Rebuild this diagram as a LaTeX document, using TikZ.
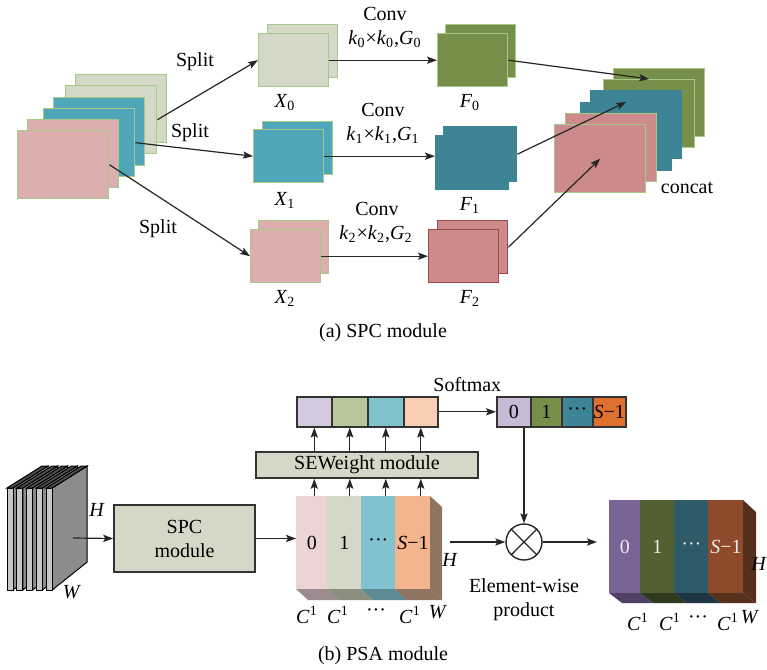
\documentclass[tikz,border=0pt]{standalone}
\usepackage{fontspec}
\setmainfont{Liberation Serif}
\usetikzlibrary{arrows.meta}

\definecolor{gglt}{HTML}{D3D9C6}
\definecolor{tealin}{HTML}{4FA6B8}
\definecolor{pinkin}{HTML}{DCAEAE}
\definecolor{edgegr}{HTML}{A6C98A}
\definecolor{greenf}{HTML}{76904A}
\definecolor{tealf}{HTML}{3D8496}
\definecolor{pinkf}{HTML}{CC8A8A}
\definecolor{redline}{HTML}{A04848}
\definecolor{slfront}{HTML}{C8C8C8}
\definecolor{slside}{HTML}{8C8C8C}
\definecolor{wlav}{HTML}{D4CADF}
\definecolor{wgrn}{HTML}{B6C89B}
\definecolor{wteal}{HTML}{80C1CD}
\definecolor{wpeach}{HTML}{F8CDB2}
\definecolor{smlav}{HTML}{C8BAD7}
\definecolor{smorange}{HTML}{E0702E}
\definecolor{mpink}{HTML}{ECD3D4}
\definecolor{mteal}{HTML}{80C2CF}
\definecolor{morange}{HTML}{F3B48E}
\definecolor{mbpink}{HTML}{9C8B8F}
\definecolor{mbgg}{HTML}{8A8F80}
\definecolor{mbteal}{HTML}{5C8A95}
\definecolor{mbrown}{HTML}{8F7462}
\definecolor{opurple}{HTML}{7A6496}
\definecolor{oolive}{HTML}{536032}
\definecolor{oteal}{HTML}{2F5A68}
\definecolor{obrown}{HTML}{8E4A2A}
\definecolor{obpurple}{HTML}{514166}
\definecolor{obolive}{HTML}{2F3A1F}
\definecolor{obteal}{HTML}{1E3641}
\definecolor{obbrown}{HTML}{56301A}

\tikzset{
  fm/.style={draw=edgegr, line width=0.7pt, inner sep=0pt, anchor=north west,
    minimum width=35pt, minimum height=26.5pt},
  bigfm/.style={fm, minimum width=45.5pt, minimum height=34pt},
  arr/.style={-{Stealth[length=5pt,width=3.6pt,inset=1pt]}, line width=0.6pt, draw=black!85},
  lbl/.style={inner sep=1pt},
  modbox/.style={draw=black!80, line width=0.8pt, fill=gglt, inner sep=0pt},
  cell/.style={draw=black!80, line width=0.8pt, inner sep=0pt, anchor=north west,
    minimum height=15pt},
  seg/.style={inner sep=0pt, anchor=north west, minimum height=46.5pt},
}

\begin{document}
\begin{tikzpicture}[x=0.5pt, y=-0.5pt, font=\fontsize{10}{12}\selectfont]
\useasboundingbox (0,0) rectangle (767,670);
\fill[white] (0,0) rectangle (767,670);

% (a) input feature map
\node[bigfm, fill=gglt] (in0) at (75,74) {};
\node[bigfm, fill=gglt] (in1) at (65,85) {};
\node[bigfm, fill=tealin] (in2) at (53,97) {};
\node[bigfm, fill=tealin] (in3) at (43,108) {};
\node[bigfm, fill=pinkin] (in4) at (27,119) {};
\node[bigfm, fill=pinkin] (in5) at (17,130) {};

% split groups
\node[fm, fill=gglt] (x0b) at (267,24) {};
\node[fm, fill=gglt] (x0) at (258,33) {};
\node[fm, fill=tealin] (x1b) at (262,121) {};
\node[fm, fill=tealin] (x1) at (253,129) {};
\node[fm, fill=pinkin] (x2b) at (258,220) {};
\node[fm, fill=pinkin] (x2) at (250,229) {};
\node[lbl] (lx0) at (285,103) {\textit{X}\textsubscript{0}};
\node[lbl] (lx1) at (285,200) {\textit{X}\textsubscript{1}};
\node[lbl] (lx2) at (285,298) {\textit{X}\textsubscript{2}};

% conv outputs
\node[fm, fill=greenf] (f0b) at (445,24) {};
\node[fm, fill=greenf] (f0) at (437,33) {};
\node[fm, fill=tealf, draw=tealf, minimum width=36.5pt, minimum height=27.5pt] (f1b) at (443,126) {};
\node[fm, fill=tealf, draw=tealf, minimum width=36.5pt, minimum height=27pt] (f1) at (435,135) {};
\node[fm, fill=pinkf, draw=redline] (f2b) at (437,220) {};
\node[fm, fill=pinkf, draw=redline] (f2) at (428,229) {};
\node[lbl] (lf0) at (470,103) {\textit{F}\textsubscript{0}};
\node[lbl] (lf1) at (470,205) {\textit{F}\textsubscript{1}};
\node[lbl] (lf2) at (470,298) {\textit{F}\textsubscript{2}};

% concat
\node[bigfm, fill=greenf] (c0) at (613,68) {};
\node[bigfm, fill=greenf] (c1) at (603,79) {};
\node[bigfm, fill=tealf, draw=tealf] (c2) at (590,90) {};
\node[bigfm, fill=tealf, draw=tealf] (c3) at (580,102) {};
\node[bigfm, fill=pinkf] (c4) at (565,113) {};
\node[bigfm, fill=pinkf] (c5) at (554,124) {};
\node[lbl] (lcat) at (687,188) {concat};

\draw[arr] (in1.east) -- (x0.west);
\draw[arr] (in3.east) -- (x1.west);
\draw[arr] (in5.east) -- (x2.west);
\node[lbl] (sp0) at (195,62) {Split};
\node[lbl] (sp1) at (190,133) {Split};
\node[lbl] (sp2) at (158,229) {Split};

\draw[arr] (x0.east) -- (x0.east -| f0.west);
\draw[arr] (x1.east) -- (x1.east -| f1.west);
\draw[arr] (x2.east) -- (x2.east -| f2.west);
\node[lbl] (cv0) at (385,14) {Conv};
\node[lbl] (k0) at (385,39) {\textit{k}\textsubscript{0}×\textit{k}\textsubscript{0},\textit{G}\textsubscript{0}};
\node[lbl] (cv1) at (383,110) {Conv};
\node[lbl] (k1) at (383,135) {\textit{k}\textsubscript{1}×\textit{k}\textsubscript{1},\textit{G}\textsubscript{1}};
\node[lbl] (cv2) at (377,209) {Conv};
\node[lbl] (k2) at (376,234) {\textit{k}\textsubscript{2}×\textit{k}\textsubscript{2},\textit{G}\textsubscript{2}};

\draw[arr] (f0.east) -- (c1.north);
\draw[arr] (f1b.east) -- (c3.north);
\draw[arr] (f2b.east) -- (c5.center);

\node[lbl] (capa) at (383,333) {(a) SPC module};

% (b) input slices
\foreach \i in {0,...,4} {
  \pgfmathsetmacro{\sx}{7+9.8*\i}
  \filldraw[fill=slside, draw=black, line width=0.5pt] (\sx+6,488) -- (\sx+41,466) -- (\sx+41,562) -- (\sx+6,590) -- cycle;
  \filldraw[fill=black!70, draw=black, line width=0.5pt] (\sx,488) -- (\sx+35,466) -- (\sx+41,466) -- (\sx+6,488) -- cycle;
  \filldraw[fill=slfront, draw=black, line width=0.5pt] (\sx,488) rectangle (\sx+6,590);
}
\coordinate (inpt) at (73,538);
\node[lbl] (lh0) at (97,510) {\textit{H}};
\node[lbl] (lw0) at (72,592) {\textit{W}};

\node[modbox, minimum width=70.5pt, minimum height=33.5pt, align=center] (spc) at (184.5,538.5) {SPC\\module};
\draw[arr] (inpt) -- (spc.west);

% multi-scale feature block
\fill[mbrown] (430,496) -- (442,507) -- (442,600) -- (430,589) -- cycle;
\foreach \xa/\xb/\col in {296/327/mbpink, 327/361/mbgg, 361/395/mbteal, 395/430/mbrown}
  \fill[\col] (\xa,589) -- (\xb,589) -- (\xb+12,600) -- (\xa+12,600) -- cycle;
\node[seg, fill=mpink, minimum width=15.5pt] (m0) at (296,496) {0};
\node[seg, fill=gglt, minimum width=17pt] (m1) at (327,496) {1};
\node[seg, fill=mteal, minimum width=17pt] (m2) at (361,496) {···};
\node[seg, fill=morange, minimum width=17.5pt] (m3) at (395,496) {\textit{S}−1};
\draw[arr] (spc.east) -- (spc.east -| m0.west);
\node[lbl] (lc0) at (307,615) {\textit{C}\textsuperscript{1}};
\node[lbl] (lc1) at (338,615) {\textit{C}\textsuperscript{1}};
\node[lbl] (lc2) at (376,613) {···};
\node[lbl] (lc3) at (410,615) {\textit{C}\textsuperscript{1}};
\node[lbl] (lw1) at (438,612) {\textit{W}};
\node[lbl] (lh1) at (450,560) {\textit{H}};

% SEWeight and weights
\node[modbox, minimum width=111pt, minimum height=13pt] (sew) at (367,465) {SEWeight module};
\node[cell, fill=wlav, minimum width=17.5pt] (w0) at (296,396) {};
\node[cell, fill=wgrn, minimum width=18pt] (w1) at (331,396) {};
\node[cell, fill=wteal, minimum width=18pt] (w2) at (367,396) {};
\node[cell, fill=wpeach, minimum width=17pt] (w3) at (403,396) {};
\foreach \k/\m in {0/m0, 1/m1, 2/m2, 3/m3} {
  \draw[arr] (w\k |- \m.north) -- (w\k |- sew.south);
  \draw[arr] (w\k |- sew.north) -- (w\k.south);
}

% softmax
\node[cell, fill=smlav, minimum width=17pt] (s0) at (496,396) {0};
\node[cell, fill=greenf, minimum width=15.5pt] (s1) at (530,396) {1};
\node[cell, fill=tealf, minimum width=15.5pt] (s2) at (561,396) {···};
\node[cell, fill=smorange, minimum width=16.5pt] (s3) at (592,396) {\textit{S}−1};
\draw[arr] (w3.east) -- (s0.west) node[lbl, midway, above=9pt] (smx) {Softmax};

% element-wise product
\node[draw=black!85, circle, minimum size=18pt, inner sep=0pt, line width=0.7pt] (cross) at (524,542) {};
\draw[line width=0.7pt, black!85] (cross.45) -- (cross.225) (cross.135) -- (cross.315);
\draw[arr] (cross.north |- s0.south) -- (cross.north);
\coordinate (midout) at (450,542);
\coordinate (outin) at (597,542);
\draw[arr] (midout) -- (cross.west);
\draw[arr] (cross.east) -- (outin);
\node[lbl, align=center] (ewp) at (524,600) {Element-wise\\product};

% output block
\fill[obbrown] (743,500) -- (756,512) -- (756,603) -- (743,593) -- cycle;
\foreach \xa/\xb/\col in {609/640/obpurple, 640/674/obolive, 674/708/obteal, 708/743/obbrown}
  \fill[\col] (\xa,593) -- (\xb,593) -- (\xb+13,603) -- (\xa+13,603) -- cycle;
\node[seg, fill=opurple, text=white!92!black, minimum width=15.5pt] (o0) at (609,500) {0};
\node[seg, fill=oolive, text=white!92!black, minimum width=17pt] (o1) at (640,500) {1};
\node[seg, fill=oteal, text=white!92!black, minimum width=17pt] (o2) at (674,500) {···};
\node[seg, fill=obrown, text=white!92!black, minimum width=17.5pt] (o3) at (708,500) {\textit{S}−1};
\node[lbl] (lc4) at (638,622) {\textit{C}\textsuperscript{1}};
\node[lbl] (lc5) at (670,622) {\textit{C}\textsuperscript{1}};
\node[lbl] (lc6) at (698,620) {···};
\node[lbl] (lc7) at (728,622) {\textit{C}\textsuperscript{1}};
\node[lbl] (lw2) at (750,617) {\textit{W}};
\node[lbl] (lh2) at (759,564) {\textit{H}};

\node[lbl] (capb) at (383,656) {(b) PSA module};
\end{tikzpicture}
\end{document}
